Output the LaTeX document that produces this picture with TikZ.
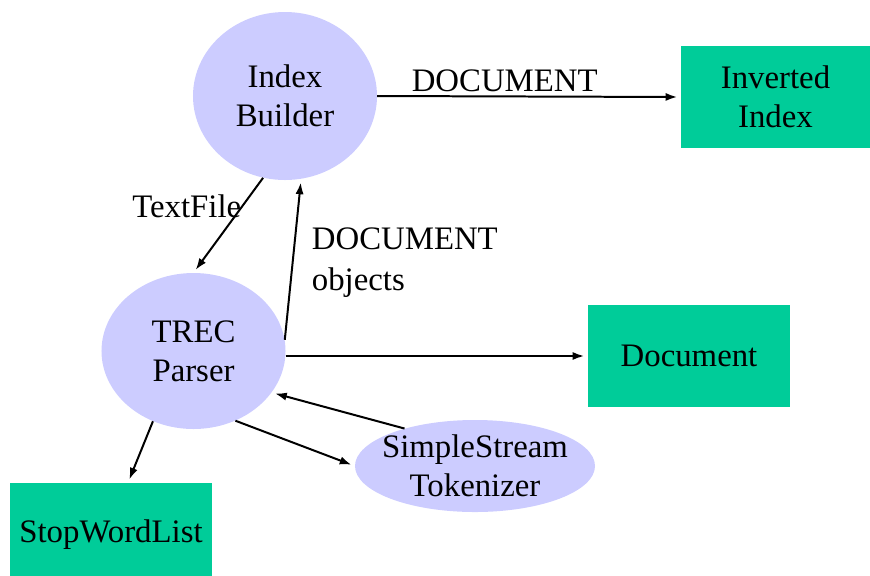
\documentclass[tikz,border=0pt]{standalone}
\usepackage{fontspec}
\setmainfont{Liberation Serif}
\usepackage{tikz}
\usetikzlibrary{arrows,arrows.meta,positioning}
\usetikzlibrary{shapes.geometric}

\definecolor{lavender}{RGB}{204,204,255}
\definecolor{seagreen}{RGB}{0,204,153}

\begin{document}
\begin{tikzpicture}
		[x=0.03cm,y=-0.03cm,>={Latex[length=10pt,width=7pt]},
		font=\fontsize{28}{33}\selectfont,
		class node/.style={ellipse,fill=lavender,draw=none,inner sep=0,align=center},
		data node/.style={rectangle,fill=seagreen,draw=none,inner sep=0,align=center},
		link/.style={->,line width=1.7pt,shorten >=3pt}]
		\useasboundingbox (0,0) rectangle (870,575);
		
		\node[class node,minimum width=5.52cm,minimum height=5.04cm] (ib) at (285,96) {Index\\Builder};
		\node[class node,minimum width=5.52cm,minimum height=4.68cm] (tp) at (193.5,351) {TREC\\Parser};
		\node[class node,inner xsep=-0.25cm,minimum width=7.2cm,minimum height=2.76cm] (tok) at (475,466) {SimpleStream\\Tokenizer};
		
		\node[data node,minimum width=5.67cm,minimum height=3.06cm] (inv) at (775.5,97) {Inverted\\Index};
		\node[data node,minimum width=6.06cm,minimum height=3.06cm] (doc) at (689,356) {Document};
		\node[data node,minimum width=6.06cm,minimum height=3.12cm] (sw) at (111,535) {StopWordList};
		
		\draw[link] (ib.east) to node [above,pos=0.42] {DOCUMENT}  (inv.west);
		\draw[link] (ib.-105) to node [left,pos=0.3,inner sep=0] {TextFile}  (tp.north);
		\draw[link] (tp.7) to node [right,align=left,xshift=12pt,yshift=-3pt,
			font=\fontsize{28}{35}\selectfont] {DOCUMENT\\objects}  (ib.-79);
		\draw[link] (tp.east |- doc.west) to node [] {}  (doc.west);
		\draw[link] (tp.-120) to node [] {}  (sw.72);
		\draw[link] (tp.-59) to node [] {}  (tok.west);
		\draw[link] (tok.152) to node [] {}  (tp.-28);
		\end{tikzpicture}
\end{document}
